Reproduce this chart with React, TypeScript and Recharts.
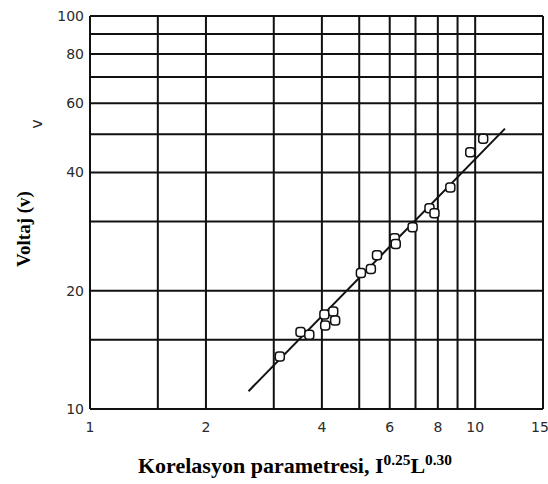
import { CartesianGrid, Scatter, ScatterChart, XAxis, YAxis } from "recharts"

const params = [3.11, 3.52, 3.71, 4.06, 4.08, 4.28, 4.33, 5.05, 5.36, 5.56, 6.18, 6.22, 6.88, 7.61, 7.84, 8.62, 9.71, 10.49]
const volts = [13.6, 15.7, 15.45, 17.4, 16.3, 17.7, 16.8, 22.2, 22.7, 24.6, 27.2, 26.3, 29.0, 32.4, 31.5, 36.6, 45.0, 48.7]

// ends of the fitted line
const fitParams = [2.58, 11.95]
const fitVolts = [11.1, 51.7]

const xTicks = [1, 1.5, 2, 3, 4, 5, 6, 7, 8, 9, 10, 15]
const xLabels = [1, 2, 4, 6, 8, 10, 15]
const yTicks = [10, 15, 20, 30, 40, 50, 60, 70, 80, 90, 100]
const yLabels = [10, 20, 40, 60, 80, 100]

const points = params.map((x, i) => ({ x, y: volts[i] }))
const fit = fitParams.map((x, i) => ({ x, y: fitVolts[i] }))

const font = "DejaVu Sans, Verdana, sans-serif"
const tickStyle = { fontSize: 14, fill: "#2a2a2a", fontFamily: font }

const Marker = (props: any) => {
  const { cx, cy } = props
  return <rect x={cx - 4.5} y={cy - 4.5} width={9} height={9} rx={3} fill="#fff" stroke="#111" strokeWidth={1.5} />
}

// x tick: last label pulled in so it stays inside the page
const XTick = (props: any) => {
  const { x, y, payload } = props
  const v = payload.value
  if (!xLabels.includes(v)) return null
  const last = v === xTicks[xTicks.length - 1]
  return (
    <text x={last ? x - 3 : x} y={y} dy="0.71em" textAnchor="middle" {...tickStyle}>
      {v}
    </text>
  )
}

export default function App() {
  return (
    <div style={{ position: "absolute", left: 0, top: 0, width: 548, height: 484, background: "#fff" }}>
      <ScatterChart width={548} height={484} margin={{ top: 16, right: 5, bottom: 0, left: 0 }}>
        <CartesianGrid stroke="#111" strokeWidth={2} />
        <XAxis
          type="number"
          dataKey="x"
          scale="log"
          domain={[1, 15]}
          ticks={xTicks}
          interval={0}
          allowDataOverflow
          axisLine={false}
          tickLine={false}
          tickSize={0}
          tickMargin={13}
          height={75}
          tick={<XTick />}
        />
        <YAxis
          type="number"
          dataKey="y"
          scale="log"
          domain={[10, 100]}
          ticks={yTicks}
          interval={0}
          allowDataOverflow
          axisLine={false}
          tickLine={false}
          tickSize={0}
          tickMargin={6}
          width={90}
          tick={tickStyle}
          tickFormatter={(v: number) => (yLabels.includes(v) ? String(v) : "")}
        />
        <Scatter data={fit} line={{ stroke: "#111", strokeWidth: 2 }} shape={() => <g />} isAnimationActive={false} />
        <Scatter data={points} shape={Marker} isAnimationActive={false} />
      </ScatterChart>

      <div
        style={{
          position: "absolute",
          left: 36,
          top: 124,
          transform: "translate(-50%, -50%) rotate(-90deg)",
          fontFamily: font,
          fontSize: 16,
          color: "#2a2a2a",
        }}
      >
        v
      </div>
      <div
        style={{
          position: "absolute",
          left: 24,
          top: 229,
          transform: "translate(-50%, -50%) rotate(-90deg)",
          fontFamily: "Liberation Serif, Times New Roman, serif",
          fontWeight: "bold",
          fontSize: 19,
          whiteSpace: "nowrap",
        }}
      >
        Voltaj (v)
      </div>
      <div
        style={{
          position: "absolute",
          left: 0,
          width: 590,
          top: 451,
          textAlign: "center",
          fontFamily: "Liberation Serif, Times New Roman, serif",
          fontWeight: "bold",
          fontSize: 22,
          whiteSpace: "nowrap",
        }}
      >
        Korelasyon parametresi, I<sup style={{ fontSize: "0.7em" }}>0.25</sup>L<sup style={{ fontSize: "0.7em" }}>0.30</sup>
      </div>
    </div>
  )
}
